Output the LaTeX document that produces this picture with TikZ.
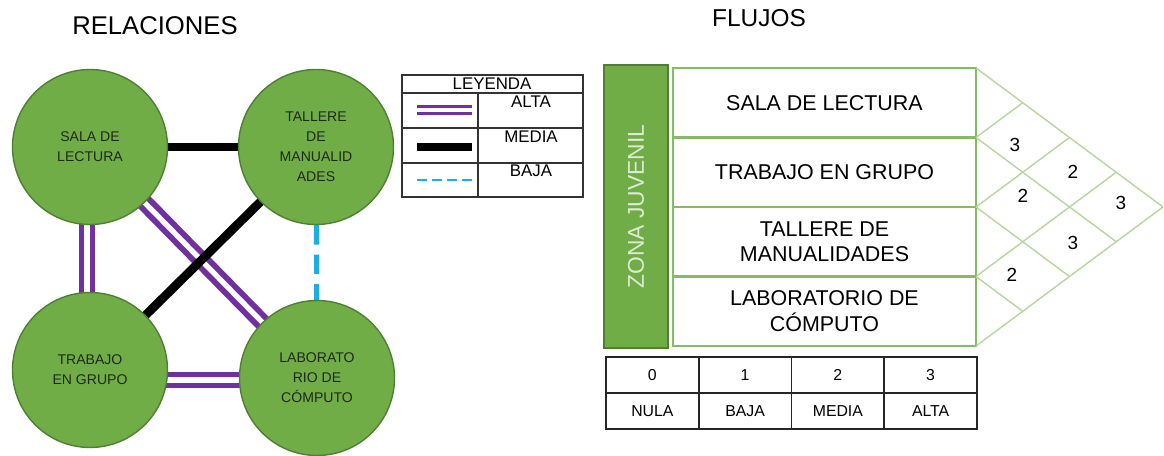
\documentclass[tikz,border=0pt]{standalone}
\usepackage{fontspec}
\setmainfont{Liberation Sans}
\usepackage{tikz}
\usetikzlibrary{positioning, calc, backgrounds}
\definecolor{verde}{HTML}{70AD47}
\definecolor{verdeosc}{HTML}{4F7F33}
\definecolor{verdetab}{HTML}{86BA64}
\definecolor{verdeclaro}{HTML}{B7D5A0}
\definecolor{violeta}{HTML}{7030A0}
\definecolor{celeste}{HTML}{1AAEE3}
\definecolor{textoz}{HTML}{1E2A17}
\definecolor{textojv}{HTML}{DCEBD2}
\newcommand{\fs}[2]{\fontsize{#1}{#2}\selectfont}

\begin{document}
\begin{tikzpicture}[x=0.02cm, y=-0.02cm,
    zona/.style={circle, draw=verdeosc, fill=verde, line width=0.8pt,
      minimum size=3.1cm, inner sep=0pt, align=center, text=textoz,
      font=\fs{8}{11.3}},
    alta/.style={draw=violeta, line width=3.3pt, double=white, double distance=3pt},
    media/.style={draw=black, line width=5pt},
    baja/.style={draw=celeste, line width=2.8pt, dash pattern=on 11pt off 5.7pt},
    titulo/.style={font=\fs{13.9}{16}},
    marco/.style={draw=black!80, line width=0.7pt},
    ley/.style={font=\fs{9.6}{11}},
    barra/.style={draw=verdeosc, fill=verde, line width=1.1pt, rotate=90,
      minimum width=5.66cm, minimum height=1.28cm, text=textojv, font=\fs{13}{15}},
    fila/.style={draw=verdetab, line width=1.2pt, minimum width=6.06cm,
      minimum height=1.39cm, outer sep=0pt, align=center, font=\fs{12.2}{14.4}},
    rejilla/.style={draw=verdeclaro, line width=0.8pt},
    valor/.style={font=\fs{10.8}{12}},
    celda/.style={draw=black!85, line width=1.1pt, minimum width=1.855cm,
      minimum height=0.72cm, outer sep=0pt, inner sep=0pt, font=\fs{9}{11}}]
  \useasboundingbox (0,0) rectangle (1164,456);

  % relaciones
  \node[titulo, font=\fs{14.6}{16}] (trel) at (155,26) {RELACIONES};
  \node[zona] (sala) at (90,147) {SALA DE\\LECTURA};
  \node[zona] (taller) at (316,147) {TALLERE\\DE\\MANUALID\\ADES};
  \node[zona] (trab) at (90,370) {TRABAJO\\EN GRUPO};
  \node[zona] (lab) at (317,378) {LABORATO\\RIO DE\\CÓMPUTO};
  \begin{scope}[on background layer]
    \draw[media] (sala) -- (taller);
    \draw[alta] ($(sala.center)+(-3,0)$) -- ($(trab.center)+(-3,0)$);
    \draw[alta] (sala.center) -- (lab.center);
    \draw[media] (taller.center) -- (trab.center);
    \draw[baja] (taller) -- (lab);
    \draw[alta] ($(trab.center)+(0,10)$) -- ($(lab.center)+(0,2)$);
  \end{scope}

  % leyenda
  \draw[marco] (402,75) rectangle (583,197);
  \draw[marco] (402,93) -- (583,93) (402,128) -- (583,128) (402,163) -- (583,163)
    (478,93) -- (478,197);
  \node[ley] (leyenda) at (492,84) {LEYENDA};
  \node[ley] (lalta) at (531,102) {ALTA};
  \node[ley] (lmedia) at (531,137) {MEDIA};
  \node[ley] (lbaja) at (531,171) {BAJA};
  \coordinate (a1) at (417,110);
  \coordinate (a2) at (472,110);
  \coordinate (m1) at (417,147);
  \coordinate (m2) at (472,147);
  \coordinate (b1) at (417,180);
  \coordinate (b2) at (472,180);
  \draw[alta, line width=1.7pt, double distance=2.3pt] (a1) -- (a2);
  \draw[media, line width=4.5pt] (m1) -- (m2);
  \draw[baja, line width=1.7pt, dash pattern=on 5.7pt off 2.8pt] (b1) -- (b2);

  % flujos
  \node[titulo] (tflu) at (759,18) {FLUJOS};
  \node[barra] (zj) at (636,206.5) {ZONA JUVENIL};
  \node[fila] (f1) at (824.5,102.75) {SALA DE LECTURA};
  \node[fila, below=0pt of f1] (f2) {TRABAJO EN GRUPO};
  \node[fila, below=0pt of f2] (f3) {TALLERE DE\\MANUALIDADES};
  \node[fila, below=0pt of f3] (f4) {LABORATORIO DE\\CÓMPUTO};
  \foreach \k in {0,...,3}
    \draw[rejilla] (976,68+69.5*\k) -- ({976+(4-\k)*46.74},{68+34.75*(\k+4)});
  \foreach \k in {1,...,4}
    \draw[rejilla] (976,68+69.5*\k) -- ({976+\k*46.74},{68+34.75*\k});
  \node[valor] (v12) at (1015,145) {3};
  \node[valor] (v13) at (1073,172) {2};
  \node[valor] (v14) at (1121,203) {3};
  \node[valor] (v23) at (1023,196) {2};
  \node[valor] (v24) at (1073,243) {3};
  \node[valor] (v34) at (1012,275) {2};

  % escala
  \foreach \v/\t [count=\i] in {0/NULA, 1/BAJA, 2/MEDIA, 3/ALTA} {
    \node[celda] (n\i) at ({606+92.75*(\i-0.5)},375) {\v};
    \node[celda, below=0pt of n\i] (t\i) {\t};
  }
\end{tikzpicture}
\end{document}
